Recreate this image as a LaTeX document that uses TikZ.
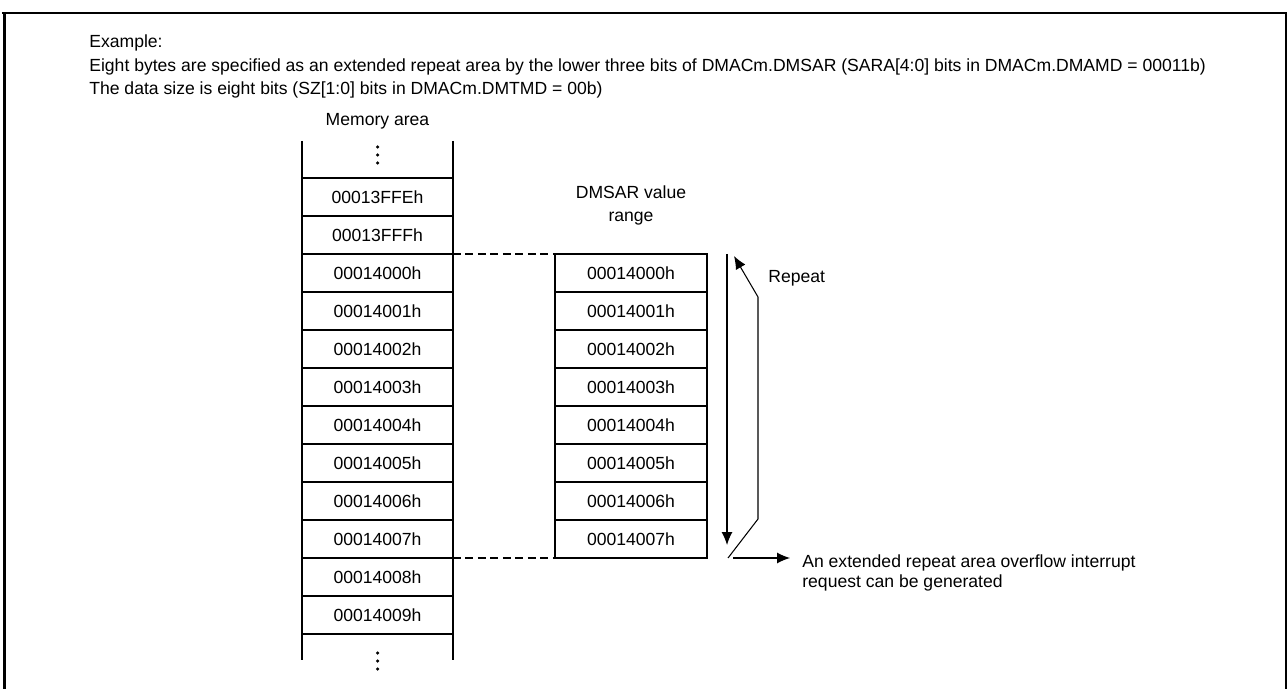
\documentclass[tikz,border=0pt]{standalone}
\usepackage{fontspec}
\setmainfont{Liberation Sans}
\usetikzlibrary{positioning}
\usetikzlibrary{calc}
\usetikzlibrary{arrows.meta}

\begin{document}
\begin{tikzpicture}[
        >={Latex[length=0.26cm,width=0.22cm]},
        font=\fontsize{10}{12}\selectfont,
        mem/.style={draw, line width=0.8pt, minimum width=3.02cm,
                    minimum height=0.76cm, inner sep=0pt, outer sep=0pt},
        rng/.style={draw, line width=0.6pt, minimum width=3.04cm,
                    minimum height=0.76cm, inner sep=0pt, outer sep=0pt},
        txt/.style={inner sep=0pt, anchor=west, align=left},
        flow/.style={line width=0.6pt},
        link/.style={line width=1.4pt, dash pattern=on 4.5pt off 2.6pt}
    ]
    \useasboundingbox (0,0) rectangle (25.76,-13.78);

    % ------- frame (open at the bottom) -------
    \draw[line width=2.2pt] (0.09,-13.78) -- (0.09,-0.26);
    \draw[line width=1.4pt] (0.04,-0.26) -- (25.74,-0.26);
    \draw[line width=1.2pt] (25.72,-0.26) -- (25.72,-13.78);

    % ------- header text -------
    \node[txt] (h1) at (1.78,-0.86) {Example:};
    \node[txt] (h2) at (1.78,-1.34) {Eight bytes are specified as an extended repeat area by the lower three bits of DMACm.DMSAR (SARA[4:0] bits in DMACm.DMAMD = 00011b)};
    \node[txt] (h3) at (1.78,-1.80) {The data size is eight bits (SZ[1:0] bits in DMACm.DMTMD = 00b)};

    % ------- memory area -------
    \node[mem] (m1) at (7.55,-3.94) {00013FFEh};
    \node[mem, below=0pt of m1] (m2) {00013FFFh};
    \node[mem, below=0pt of m2] (m3) {00014000h};
    \node[mem, below=0pt of m3] (m4) {00014001h};
    \node[mem, below=0pt of m4] (m5) {00014002h};
    \node[mem, below=0pt of m5] (m6) {00014003h};
    \node[mem, below=0pt of m6] (m7) {00014004h};
    \node[mem, below=0pt of m7] (m8) {00014005h};
    \node[mem, below=0pt of m8] (m9) {00014006h};
    \node[mem, below=0pt of m9] (m10) {00014007h};
    \node[mem, below=0pt of m10] (m11) {00014008h};
    \node[mem, below=0pt of m11] (m12) {00014009h};

    \node[above=0.85cm of m1] (memlabel) {Memory area};

    % continuation dots above and below
    \foreach \dy in {0.30,0.46,0.62}
        \fill ($(m1.north)+(0,\dy)$) circle (0.035);
    \foreach \dy in {0.38,0.54,0.70}
        \fill ($(m12.south)+(0,-\dy)$) circle (0.035);

    % side walls of the memory column
    \draw[line width=1.2pt] ($(m1.north west)+(0,0.74)$) -- ($(m12.south west)+(0,-0.52)$);
    \draw[line width=1.2pt] ($(m1.north east)+(0,0.74)$) -- ($(m12.south east)+(0,-0.52)$);

    % ------- DMSAR value range -------
    \node[rng, right=2.04cm of m3] (d1) {00014000h};
    \node[rng, below=0pt of d1] (d2) {00014001h};
    \node[rng, below=0pt of d2] (d3) {00014002h};
    \node[rng, below=0pt of d3] (d4) {00014003h};
    \node[rng, below=0pt of d4] (d5) {00014004h};
    \node[rng, below=0pt of d5] (d6) {00014005h};
    \node[rng, below=0pt of d6] (d7) {00014006h};
    \node[rng, below=0pt of d7] (d8) {00014007h};

    \node[above=0.45cm of d1, align=center, font=\fontsize{10}{13}\selectfont]
        (rnglabel) {DMSAR value\\range};

    \draw[link] (m3.north east) -- (d1.north west);
    \draw[link] (m10.south east) -- (d8.south west);

    % ------- repeat / overflow -------
    \coordinate (rtop) at ($(d1.north east)+(0.4,0)$);
    \coordinate (rbot) at ($(d8.south east)+(0.4,0.26)$);
    \draw[flow, ->] (rtop) -- (rbot);

    \coordinate (wrap) at ($(d8.south east)+(0.42,0)$);
    \coordinate (bend1) at ($(d8.south east)+(1.02,0.78)$);
    \coordinate (bend2) at ($(d1.north east)+(1.02,-0.86)$);
    \coordinate (rtip) at ($(d1.north east)+(0.54,-0.04)$);
    \draw[flow, ->] (wrap) -- (bend1) -- (bend2) -- (rtip);

    \node[txt] (repeat) at ($(d1.north east)+(1.22,-0.48)$) {Repeat};

    \node[txt, font=\fontsize{10}{11.5}\selectfont] (ovf) at ($(d8.south east)+(1.9,-0.3)$)
        {An extended repeat area overflow interrupt\\request can be generated};
    \coordinate (ostart) at ($(d8.south east)+(0.52,0)$);
    \coordinate (oend) at ($(d8.south east)+(1.66,0)$);
    \draw[flow, ->] (ostart) -- (oend);

\end{tikzpicture}
\end{document}
